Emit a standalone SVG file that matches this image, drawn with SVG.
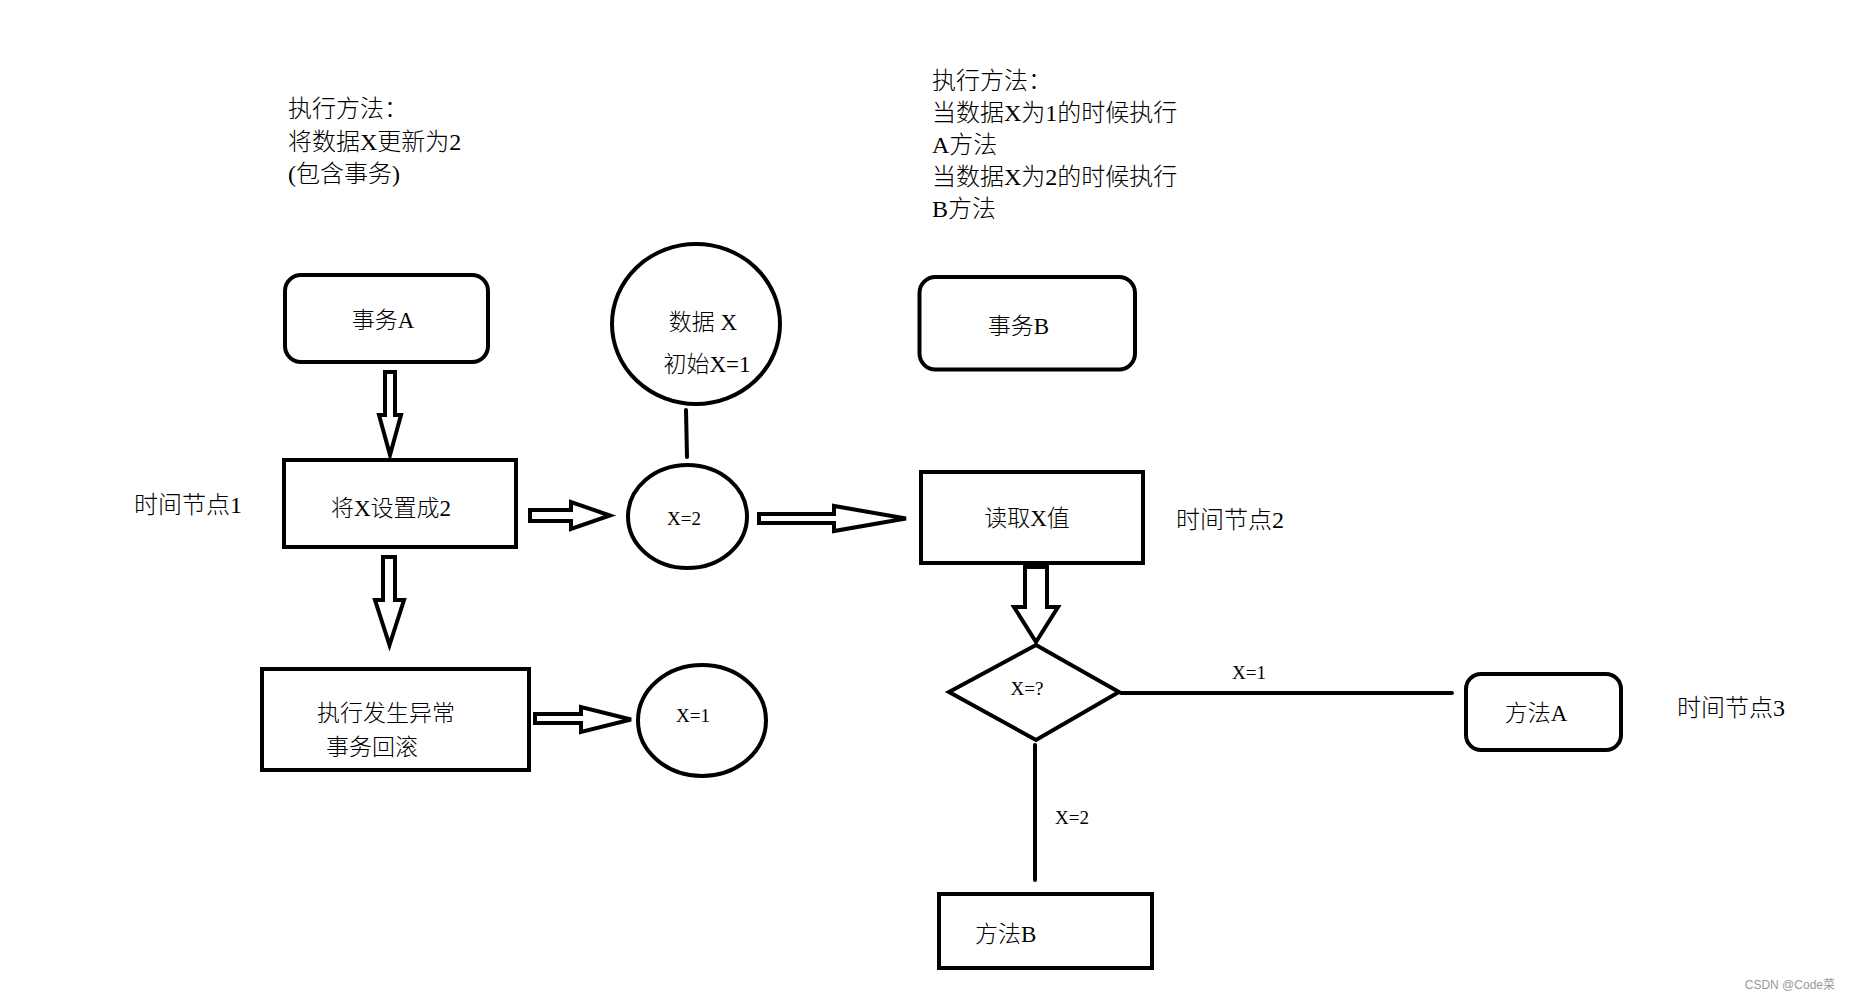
<svg xmlns="http://www.w3.org/2000/svg" width="1851" height="1000" viewBox="0 0 1851 1000">
<style>
.bg{fill:#fff}
.box{fill:#fff;stroke:#000;stroke-width:4}
.ln{fill:none;stroke:#000;stroke-width:4;stroke-linecap:round}
.arr{fill:#fff;stroke:#000;stroke-width:4;stroke-linejoin:miter}
text{font-family:"Liberation Serif","Noto Sans CJK SC",serif;fill:#000;font-weight:300}
.a{font-size:24px}
.n{font-size:23px}
.s{font-size:19px}
.c{text-anchor:middle}
.wm{font-family:"Liberation Sans","Noto Sans CJK SC",sans-serif;font-size:12px;fill:#999;text-anchor:end;font-weight:400}
</style>
<rect class="bg" x="0" y="0" width="1851" height="1000"/>

<g id="note1">
<text class="a" x="288" y="117">执行方法：</text>
<text class="a" x="288" y="150">将数据X更新为2</text>
<text class="a" x="288" y="182">(包含事务)</text>
</g>
<g id="note2">
<text class="a" x="932" y="89">执行方法：</text>
<text class="a" x="932" y="121">当数据X为1的时候执行</text>
<text class="a" x="932" y="153">A方法</text>
<text class="a" x="932" y="185">当数据X为2的时候执行</text>
<text class="a" x="932" y="217">B方法</text>
</g>

<g id="connectors">
<path class="arr" d="M385,372 L395,372 L395,415 L401,415 L390,455 L379,415 L385,415 Z"/>
<path class="arr" d="M530,510 L571,510 L571,502 L610,515.5 L571,529 L571,521 L530,521 Z"/>
<path class="ln" d="M686,410 L687,457"/>
<path class="arr" d="M759,514 L834,514 L834,506 L906,518.5 L834,531 L834,523 L759,523 Z"/>
<path class="arr" d="M383,557 L395,557 L395,600 L404,600 L389.5,645 L375,600 L383,600 Z"/>
<path class="arr" d="M535,714 L581,714 L581,707 L631,719.5 L581,732 L581,723 L535,723 Z"/>
<path class="arr" d="M1025,567 L1047,567 L1047,607 L1058,607 L1036,642 L1014,607 L1025,607 Z"/>
<path class="ln" d="M1121,693 L1452,693"/>
<path class="ln" d="M1035,745 L1035,880"/>
<text class="s c" x="1249" y="679">X=1</text>
<text class="s c" x="1072" y="824">X=2</text>
</g>

<g id="txA">
<rect class="box" x="285" y="275" width="203" height="87" rx="16"/>
<text class="n c" x="383" y="328">事务A</text>
</g>
<g id="setX">
<rect class="box" x="284" y="460" width="232" height="87"/>
<text class="n c" x="391" y="516">将X设置成2</text>
</g>
<g id="rollback">
<rect class="box" x="262" y="669" width="267" height="101"/>
<text class="n" x="317" y="721">执行发生异常</text>
<text class="n" x="326" y="755">事务回滚</text>
</g>
<g id="dataX">
<ellipse class="box" cx="696" cy="324" rx="84" ry="80"/>
<text class="n c" x="703" y="330">数据 X</text>
<text class="n c" x="707" y="372">初始X=1</text>
</g>
<g id="x2">
<ellipse class="box" cx="687.5" cy="516.5" rx="59.5" ry="51.5"/>
<text class="s c" x="684" y="525">X=2</text>
</g>
<g id="x1">
<ellipse class="box" cx="702" cy="720.5" rx="64" ry="55.5"/>
<text class="s c" x="693" y="722">X=1</text>
</g>
<g id="txB">
<rect class="box" x="919.5" y="277" width="215.5" height="92.5" rx="16"/>
<text class="n c" x="1018.5" y="334">事务B</text>
</g>
<g id="readX">
<rect class="box" x="921" y="472" width="222" height="91"/>
<text class="n c" x="1027" y="526">读取X值</text>
</g>
<g id="decide">
<path class="box" d="M1036,645 L1119,692 L1036,740 L949,692 Z"/>
<text class="s c" x="1027" y="695">X=?</text>
</g>
<g id="methodA">
<rect class="box" x="1466" y="674" width="155" height="76" rx="15"/>
<text class="n c" x="1536" y="721">方法A</text>
</g>
<g id="methodB">
<rect class="box" x="939" y="894" width="213" height="74"/>
<text class="n" x="975" y="942">方法B</text>
</g>
<g id="t1"><text class="a" x="134" y="513">时间节点1</text></g>
<g id="t2"><text class="a" x="1176" y="528">时间节点2</text></g>
<g id="t3"><text class="a" x="1677" y="716">时间节点3</text></g>
<text class="wm" x="1835" y="989">CSDN @Code菜</text>
</svg>
